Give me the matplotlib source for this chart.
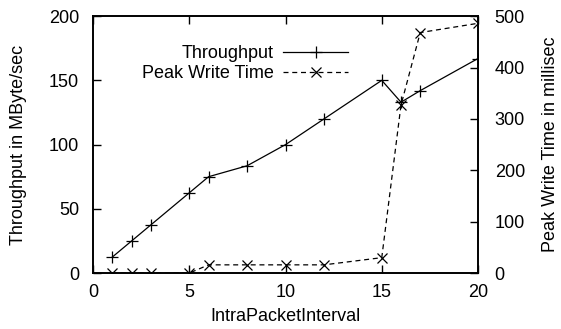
import matplotlib
matplotlib.use('Agg')
import matplotlib.pyplot as plt

plt.rcParams['font.family'] = ['Liberation Sans', 'DejaVu Sans']
plt.rcParams['font.size'] = 13

# data
tp_x = [1, 2, 3, 5, 6, 8, 10, 12, 15, 16, 17, 20]
throughput = [12.5, 25, 37.5, 62.5, 75, 83.5, 100, 120, 150, 133, 142, 167]
pw_x = [1, 2, 3, 5, 6, 8, 10, 12, 15, 16, 17, 20]
peak_write = [0, 0, 0, 0, 16, 16, 16, 16, 30, 327, 468, 486]

fig = plt.figure(figsize=(5.61, 3.29), dpi=100)
ax = fig.add_axes([0.166, 0.170, 0.686, 0.781])
ax2 = ax.twinx()

l1, = ax.plot(tp_x, throughput, color='black', lw=0.9, marker='+', ms=8, mew=0.9)
l2, = ax2.plot(pw_x, peak_write, color='black', lw=0.9, ls=(0, (4, 3)),
               marker='x', ms=7, mew=0.9)

ax.set_xlim(0, 20)
ax.set_ylim(0, 200)
ax2.set_ylim(0, 500)
ax.set_xticks([0, 5, 10, 15, 20])
ax.set_yticks([0, 50, 100, 150, 200])
ax2.set_yticks([0, 100, 200, 300, 400, 500])

ax.tick_params(direction='in', length=6, width=1, top=True, pad=8)
ax.tick_params(axis='y', pad=10)
ax2.tick_params(direction='in', length=6, width=1, pad=12)
for a in (ax, ax2):
    for s in a.spines.values():
        s.set_linewidth(1.2)

ax.set_xlabel('IntraPacketInterval', labelpad=5)
ax.set_ylabel('Throughput in MByte/sec', labelpad=16)
ax2.set_ylabel('Peak Write Time in millisec', labelpad=12)

leg = ax.legend([l1, l2], ['Throughput', 'Peak Write Time'], loc='upper left',
                bbox_to_anchor=(0.107, 0.915), frameon=False, markerfirst=False,
                handlelength=3.6, handletextpad=0.55, labelspacing=0.15,
                borderaxespad=0)
for t in leg.get_texts():
    t.set_ha('right')

fig.savefig('out.png', dpi=100)
